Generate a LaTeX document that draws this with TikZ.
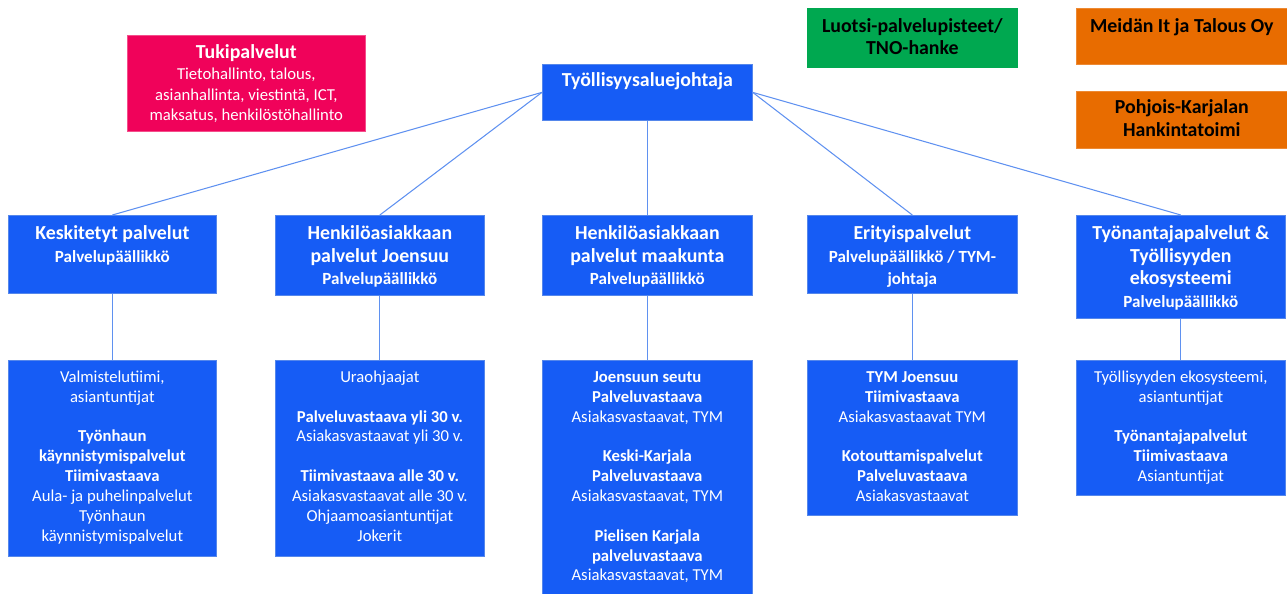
\documentclass[tikz,border=0pt]{standalone}
\usepackage{fontspec}
\setmainfont{Carlito}
\usepackage{tikz}
\usetikzlibrary{calc}

\definecolor{boxblue}{RGB}{22,92,245}
\definecolor{edgeblue}{RGB}{85,135,235}
\definecolor{linkblue}{RGB}{95,145,240}
\definecolor{tukipink}{RGB}{240,2,90}
\definecolor{luotsigreen}{RGB}{0,168,80}
\definecolor{hankorange}{RGB}{232,108,0}

\newcommand{\orgtitle}{\fontsize{11.3}{13}\selectfont\bfseries}
\newcommand{\orgsub}{\fontsize{9.7}{13}\selectfont\bfseries}
\newcommand{\orgtext}{\fontsize{9.5}{11.3}\selectfont\mdseries}
\newcommand{\orgtop}[1]{\rule{0pt}{#1}}

\tikzset{
    unit/.style={draw=edgeblue, fill=boxblue, text=white, inner sep=0pt, anchor=north west},
    side/.style={inner sep=0pt, anchor=north west},
    link/.style={draw=linkblue, line width=0.6pt}
}

\begin{document}
\begin{tikzpicture}[x=0.02cm, y=-0.02cm]
        \useasboundingbox (0,0) rectangle (1287,593);
        %SIVULAATIKOT
        \node[side, fill=tukipink, draw=tukipink!70!white, text=white] (tuki) at (127,35) {\parbox[t][1.92cm][t]{4.76cm}{\centering\orgtop{13pt}\orgtitle Tukipalvelut\\ \fontsize{9.5}{11.9}\selectfont\mdseries Tietohallinto, talous,\\ asianhallinta, viestintä, ICT,\\ maksatus, henkilöstöhallinto}};
        \node[side, fill=luotsigreen, draw=luotsigreen] (luotsi) at (807,8) {\parbox[t][1.18cm][t]{4.2cm}{\centering\orgtop{14pt}\fontsize{11.3}{12.5}\selectfont\bfseries Luotsi-palvelupisteet/\\ TNO-hanke}};
        \node[side, fill=hankorange, draw=hankorange!80!white] (meidan) at (1076,8) {\parbox[t][1.12cm][t]{4.22cm}{\centering\orgtop{14pt}\orgtitle Meidän It ja Talous Oy}};
        \node[side, fill=hankorange, draw=hankorange!80!white] (hanki) at (1076,91) {\parbox[t][1.14cm][t]{4.22cm}{\centering\orgtop{12.5pt}\orgtitle Pohjois-Karjalan\\ Hankintatoimi}};
        %JOHTAJA
        \node[unit] (johtaja) at (542,64) {\parbox[t][1.12cm][t]{4.2cm}{\centering\orgtop{12.5pt}\orgtitle Työllisyysaluejohtaja}};
        %PALVELUALUEET
        \node[unit] (kesk) at (8,215) {\parbox[t][1.56cm][t]{4.16cm}{\centering\orgtop{13.6pt}\orgtitle Keskitetyt palvelut\\ \orgsub Palvelupäällikkö}};
        \node[unit] (joens) at (275,215) {\parbox[t][1.6cm][t]{4.18cm}{\centering\orgtop{13.6pt}\orgtitle Henkilöasiakkaan\\ palvelut Joensuu\\ \orgsub Palvelupäällikkö}};
        \node[unit] (maak) at (542,215) {\parbox[t][1.6cm][t]{4.2cm}{\centering\orgtop{13.6pt}\orgtitle Henkilöasiakkaan\\ palvelut maakunta\\ \orgsub Palvelupäällikkö}};
        \node[unit] (erit) at (807,215) {\parbox[t][1.56cm][t]{4.2cm}{\centering\orgtop{13.6pt}\orgtitle Erityispalvelut\\ \orgsub Palvelupäällikkö / TYM-\\ johtaja}};
        \node[unit] (tyon) at (1076,215) {\parbox[t][2.06cm][t]{4.18cm}{\centering\orgtop{13.6pt}\orgtitle Työnantajapalvelut \&\\ Työllisyyden\\ ekosysteemi\\ \orgsub Palvelupäällikkö}};
        %TIIMIT
        \node[unit] (keskt) at (8,360) {\parbox[t][3.92cm][t]{4.16cm}{\centering\orgtop{12.5pt}\orgtext Valmistelutiimi,\\ asiantuntijat\\[11.3pt] \textbf{Työnhaun}\\ \textbf{käynnistymispalvelut}\\ \textbf{Tiimivastaava}\\ Aula- ja puhelinpalvelut\\ Työnhaun\\ käynnistymispalvelut}};
        \node[unit] (joenst) at (275,360) {\parbox[t][3.92cm][t]{4.18cm}{\centering\orgtop{12.5pt}\orgtext Uraohjaajat\\[11.3pt] \textbf{Palveluvastaava yli 30 v.}\\ Asiakasvastaavat yli 30 v.\\[11.3pt] \textbf{Tiimivastaava alle 30 v.}\\ Asiakasvastaavat alle 30 v.\\ Ohjaamoasiantuntijat\\ Jokerit}};
        \node[unit] (maakt) at (542,360) {\parbox[t][5cm][t]{4.2cm}{\centering\orgtop{12.5pt}\orgtext \textbf{Joensuun seutu}\\ \textbf{Palveluvastaava}\\ Asiakasvastaavat, TYM\\[11.3pt] \textbf{Keski-Karjala}\\ \textbf{Palveluvastaava}\\ Asiakasvastaavat, TYM\\[11.3pt] \textbf{Pielisen Karjala}\\ \textbf{palveluvastaava}\\ Asiakasvastaavat, TYM}};
        \node[unit] (eritt) at (807,360) {\parbox[t][3.1cm][t]{4.2cm}{\centering\orgtop{12.5pt}\orgtext \textbf{TYM Joensuu}\\ \textbf{Tiimivastaava}\\ Asiakasvastaavat TYM\\[11.3pt] \textbf{Kotouttamispalvelut}\\ \textbf{Palveluvastaava}\\ Asiakasvastaavat}};
        \node[unit] (tyont) at (1076,360) {\parbox[t][2.7cm][t]{4.18cm}{\centering\orgtop{12.5pt}\orgtext Työllisyyden ekosysteemi,\\ asiantuntijat\\[11.3pt] \textbf{Työnantajapalvelut}\\ \textbf{Tiimivastaava}\\ Asiantuntijat}};
        %VIIVAT
        \draw[link] (johtaja.west) -- (kesk.north);
        \draw[link] (johtaja.west) -- (joens.north);
        \draw[link] (johtaja.south) -- (maak.north);
        \draw[link] (johtaja.east) -- (erit.north);
        \draw[link] (johtaja.east) -- (tyon.north);
        \draw[link] (kesk.south) -- (keskt.north);
        \draw[link] (joens.south) -- (joenst.north);
        \draw[link] (maak.south) -- (maakt.north);
        \draw[link] (erit.south) -- (eritt.north);
        \draw[link] (tyon.south) -- (tyont.north);
    \end{tikzpicture}
\end{document}
